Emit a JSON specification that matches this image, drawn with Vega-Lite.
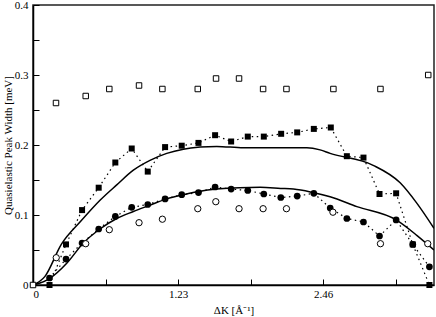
{
  "$schema": "https://vega.github.io/schema/vega-lite/v6.json",
  "width": 401,
  "height": 280,
  "autosize": {"type": "none"},
  "padding": {"left": 33, "top": 5, "right": 2, "bottom": 32},
  "background": "white",
  "config": {
    "font": "Liberation Serif",
    "view": {"stroke": "#222", "strokeWidth": 1.5},
    "axis": {
      "grid": false,
      "domainColor": "#000",
      "domainWidth": 1.5,
      "tickColor": "#000",
      "tickSize": -6,
      "labelFont": "Liberation Serif",
      "titleFont": "Liberation Serif",
      "labelFontSize": 11,
      "titleFontSize": 11,
      "titleFontWeight": "normal",
      "labelColor": "#000",
      "titleColor": "#000"
    }
  },
  "data": {
    "values": [
      {"s": "A", "x": 0, "y": 0},
      {"s": "A", "x": 0.195, "y": 0.26},
      {"s": "A", "x": 0.447, "y": 0.27},
      {"s": "A", "x": 0.647, "y": 0.28},
      {"s": "A", "x": 0.899, "y": 0.285},
      {"s": "A", "x": 1.097, "y": 0.28},
      {"s": "A", "x": 1.397, "y": 0.28},
      {"s": "A", "x": 1.552, "y": 0.295},
      {"s": "A", "x": 1.747, "y": 0.295},
      {"s": "A", "x": 1.951, "y": 0.28},
      {"s": "A", "x": 2.149, "y": 0.28},
      {"s": "A", "x": 2.547, "y": 0.28},
      {"s": "A", "x": 2.946, "y": 0.28},
      {"s": "A", "x": 3.351, "y": 0.3},

      {"s": "B", "x": 0.14, "y": 0.0},
      {"s": "B", "x": 0.28, "y": 0.058},
      {"s": "B", "x": 0.416, "y": 0.107},
      {"s": "B", "x": 0.557, "y": 0.139},
      {"s": "B", "x": 0.698, "y": 0.175},
      {"s": "B", "x": 0.837, "y": 0.195},
      {"s": "B", "x": 0.973, "y": 0.162},
      {"s": "B", "x": 1.12, "y": 0.197},
      {"s": "B", "x": 1.261, "y": 0.199},
      {"s": "B", "x": 1.403, "y": 0.203},
      {"s": "B", "x": 1.544, "y": 0.214},
      {"s": "B", "x": 1.68, "y": 0.205},
      {"s": "B", "x": 1.821, "y": 0.212},
      {"s": "B", "x": 1.957, "y": 0.212},
      {"s": "B", "x": 2.104, "y": 0.216},
      {"s": "B", "x": 2.24, "y": 0.218},
      {"s": "B", "x": 2.381, "y": 0.223},
      {"s": "B", "x": 2.525, "y": 0.225},
      {"s": "B", "x": 2.661, "y": 0.184},
      {"s": "B", "x": 2.802, "y": 0.182},
      {"s": "B", "x": 2.938, "y": 0.13},
      {"s": "B", "x": 3.079, "y": 0.131},
      {"s": "B", "x": 3.22, "y": 0.058},
      {"s": "B", "x": 3.361, "y": 0.0},

      {"s": "C", "x": 0.14, "y": 0.01},
      {"s": "C", "x": 0.28, "y": 0.037},
      {"s": "C", "x": 0.416, "y": 0.06},
      {"s": "C", "x": 0.557, "y": 0.08},
      {"s": "C", "x": 0.698, "y": 0.098},
      {"s": "C", "x": 0.837, "y": 0.111},
      {"s": "C", "x": 0.973, "y": 0.115},
      {"s": "C", "x": 1.12, "y": 0.123},
      {"s": "C", "x": 1.261, "y": 0.129},
      {"s": "C", "x": 1.403, "y": 0.132},
      {"s": "C", "x": 1.544, "y": 0.14},
      {"s": "C", "x": 1.68, "y": 0.137},
      {"s": "C", "x": 1.821, "y": 0.135},
      {"s": "C", "x": 1.957, "y": 0.13},
      {"s": "C", "x": 2.101, "y": 0.125},
      {"s": "C", "x": 2.24, "y": 0.127},
      {"s": "C", "x": 2.381, "y": 0.131},
      {"s": "C", "x": 2.52, "y": 0.11},
      {"s": "C", "x": 2.661, "y": 0.095},
      {"s": "C", "x": 2.802, "y": 0.09},
      {"s": "C", "x": 2.938, "y": 0.07},
      {"s": "C", "x": 3.079, "y": 0.093},
      {"s": "C", "x": 3.22, "y": 0.058},
      {"s": "C", "x": 3.361, "y": 0.026},

      {"s": "D", "x": 0.197, "y": 0.039},
      {"s": "D", "x": 0.447, "y": 0.059},
      {"s": "D", "x": 0.647, "y": 0.079},
      {"s": "D", "x": 0.899, "y": 0.089},
      {"s": "D", "x": 1.097, "y": 0.094},
      {"s": "D", "x": 1.397, "y": 0.109},
      {"s": "D", "x": 1.55, "y": 0.119},
      {"s": "D", "x": 1.747, "y": 0.109},
      {"s": "D", "x": 1.951, "y": 0.109},
      {"s": "D", "x": 2.149, "y": 0.109},
      {"s": "D", "x": 2.543, "y": 0.104},
      {"s": "D", "x": 2.946, "y": 0.059},
      {"s": "D", "x": 3.347, "y": 0.059},

      {"s": "E", "x": 0, "y": 0},
      {"s": "E", "x": 0.1, "y": 0.012},
      {"s": "E", "x": 0.24, "y": 0.058},
      {"s": "E", "x": 0.41, "y": 0.092},
      {"s": "E", "x": 0.568, "y": 0.121},
      {"s": "E", "x": 0.71, "y": 0.143},
      {"s": "E", "x": 0.851, "y": 0.164},
      {"s": "E", "x": 0.992, "y": 0.178},
      {"s": "E", "x": 1.134, "y": 0.188},
      {"s": "E", "x": 1.275, "y": 0.194},
      {"s": "E", "x": 1.417, "y": 0.197},
      {"s": "E", "x": 1.558, "y": 0.198},
      {"s": "E", "x": 1.784, "y": 0.196},
      {"s": "E", "x": 2.067, "y": 0.196},
      {"s": "E", "x": 2.322, "y": 0.196},
      {"s": "E", "x": 2.434, "y": 0.193},
      {"s": "E", "x": 2.519, "y": 0.188},
      {"s": "E", "x": 2.884, "y": 0.171},
      {"s": "E", "x": 3.113, "y": 0.146},
      {"s": "E", "x": 3.254, "y": 0.117},
      {"s": "E", "x": 3.4, "y": 0.081},

      {"s": "F", "x": 0, "y": 0},
      {"s": "F", "x": 0.144, "y": 0.0096},
      {"s": "F", "x": 0.286, "y": 0.031},
      {"s": "F", "x": 0.427, "y": 0.06},
      {"s": "F", "x": 0.568, "y": 0.08},
      {"s": "F", "x": 0.71, "y": 0.095},
      {"s": "F", "x": 0.851, "y": 0.105},
      {"s": "F", "x": 0.992, "y": 0.114},
      {"s": "F", "x": 1.134, "y": 0.123},
      {"s": "F", "x": 1.275, "y": 0.129},
      {"s": "F", "x": 1.417, "y": 0.134},
      {"s": "F", "x": 1.558, "y": 0.137},
      {"s": "F", "x": 1.75, "y": 0.139},
      {"s": "F", "x": 1.926, "y": 0.1395},
      {"s": "F", "x": 2.1, "y": 0.138},
      {"s": "F", "x": 2.208, "y": 0.137},
      {"s": "F", "x": 2.351, "y": 0.133},
      {"s": "F", "x": 2.519, "y": 0.126},
      {"s": "F", "x": 2.746, "y": 0.112},
      {"s": "F", "x": 3.079, "y": 0.093},
      {"s": "F", "x": 3.254, "y": 0.071},
      {"s": "F", "x": 3.4, "y": 0.05}
    ]
  },
  "encoding": {
    "x": {
      "field": "x", "type": "quantitative",
      "scale": {"domain": [0, 3.4], "nice": false, "zero": false},
      "axis": {
        "title": "ΔK [Å⁻¹]",
        "values": [0, 0.615, 1.23, 1.845, 2.46, 3.075],
        "labelExpr": "datum.value == 0 ? '0' : datum.value == 1.23 ? '1.23' : datum.value == 2.46 ? '2.46' : ''",
        "labelPadding": 9,
        "titlePadding": 5
      }
    },
    "y": {
      "field": "y", "type": "quantitative",
      "scale": {"domain": [0, 0.4], "nice": false},
      "axis": {
        "title": "Quasielastic Peak Width [meV]",
        "values": [0, 0.05, 0.1, 0.15, 0.2, 0.25, 0.3, 0.35, 0.4],
        "labelExpr": "abs(datum.value * 10 - round(datum.value * 10)) < 0.001 ? format(datum.value, '.1~f') : ''",
        "labelPadding": 11,
        "titlePadding": 1
      }
    }
  },
  "layer": [
    {
      "transform": [{"filter": "datum.s == 'E' || datum.s == 'F'"}],
      "mark": {"type": "line", "color": "#000", "strokeWidth": 1.5, "interpolate": "monotone", "clip": true},
      "encoding": {"detail": {"field": "s"}}
    },
    {
      "transform": [{"filter": "datum.s == 'B' || datum.s == 'C'"}],
      "mark": {"type": "line", "color": "#000", "strokeWidth": 1.2, "strokeDash": [1.5, 3.5]},
      "encoding": {"detail": {"field": "s"}}
    },
    {
      "transform": [{"filter": "datum.s == 'B'"}],
      "mark": {"type": "point", "shape": "square", "filled": true, "color": "#000", "size": 36, "opacity": 1}
    },
    {
      "transform": [{"filter": "datum.s == 'C'"}],
      "mark": {"type": "point", "shape": "circle", "filled": true, "color": "#000", "size": 45, "opacity": 1}
    },
    {
      "transform": [{"filter": "datum.s == 'A'"}],
      "mark": {"type": "point", "shape": "square", "filled": false, "color": "#000", "fill": "white", "strokeWidth": 1, "size": 30, "opacity": 1}
    },
    {
      "transform": [{"filter": "datum.s == 'D'"}],
      "mark": {"type": "point", "shape": "circle", "filled": false, "color": "#000", "fill": "white", "strokeWidth": 1, "size": 40, "opacity": 1}
    }
  ]
}
